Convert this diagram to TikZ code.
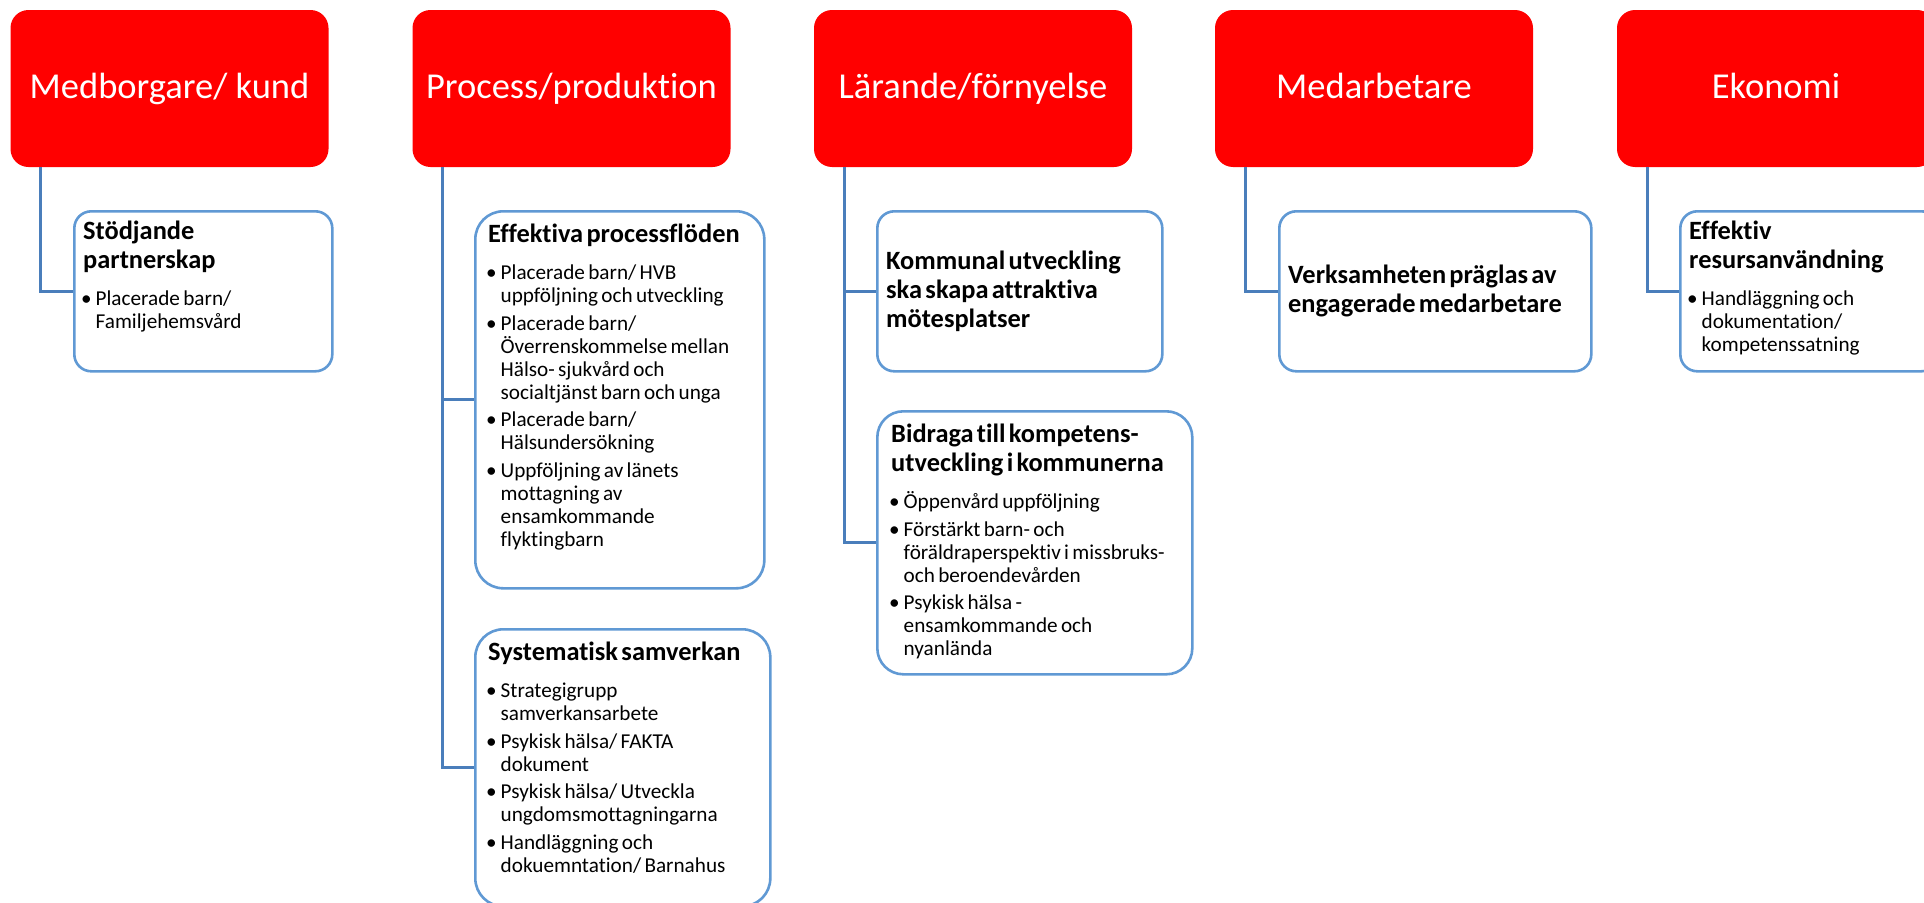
\documentclass[tikz,border=0pt]{standalone}
\usepackage{fontspec}
\setmainfont{Carlito}[Ligatures={NoCommon}]

\definecolor{rouge}{RGB}{255,0,0}
\definecolor{bleucadre}{RGB}{96,153,212}
\definecolor{bleulien}{RGB}{74,126,187}

\newcommand\entete[1]{{\bfseries\fontsize{26.4pt}{29pt}\selectfont #1\par}\vspace{14.5pt}}
\newcommand\puce[1]{{\fontsize{21.2pt}{23pt}\selectfont\hangindent=12.5pt\hangafter=1\noindent\makebox[12.5pt][l]{\hspace{-2pt}\textbullet}#1\par}\vspace{4.5pt}}

\begin{document}
\begin{tikzpicture}  % ------ Perspectives et objectifs -------
      [x=1pt,y=-1pt,
       cat/.style={fill=rouge, text=white, rounded corners=18pt, minimum width=318pt,
         minimum height=157pt, inner sep=0pt, text height=27pt, text depth=7pt,
         font=\fontsize{36.5pt}{40pt}\selectfont},
       boite/.style={draw=bleucadre, line width=2.6pt, fill=white, anchor=north west, inner sep=0pt},
       lien/.style={draw=bleulien, line width=2.8pt},
       texte/.style={inner sep=0pt, align=left, text width=330pt, anchor=base west}]

    \useasboundingbox (0,0) rectangle (1924,902);
    \clip (0,0) rectangle (1924,902);

    \node[cat] (kund) at (169.5,88.5) {Medborgare/ kund};
    \node[cat] (process) at (571.5,88.5) {Process/produktion};
    \node[cat] (larande) at (973,88.5) {Lärande/förnyelse};
    \node[cat] (medarb) at (1374,88.5) {Medarbetare};
    \node[cat] (ekonomi) at (1776,88.5) {Ekonomi};

    \node[boite, minimum width=258pt, minimum height=160pt, rounded corners=17pt] (partner) at (73,210) {};
    \node[boite, minimum width=289pt, minimum height=377pt, rounded corners=28pt] (flode) at (474,210) {};
    \node[boite, minimum width=295pt, minimum height=277pt, rounded corners=28pt] (samverkan) at (474,628) {};
    \node[boite, minimum width=285pt, minimum height=160pt, rounded corners=17pt] (motes) at (876,210) {};
    \node[boite, minimum width=315pt, minimum height=263pt, rounded corners=26pt] (kompetens) at (876,410) {};
    \node[boite, minimum width=312pt, minimum height=160pt, rounded corners=17pt] (engage) at (1278,210) {};
    \node[boite, minimum width=258pt, minimum height=160pt, rounded corners=17pt] (resurs) at (1679,210) {};

    \draw[lien] ([xshift=30.5pt]kund.south west) |- (partner.west);
    \draw[lien] ([xshift=30.5pt]process.south west) |- (flode.west);
    \draw[lien] ([xshift=30.5pt]process.south west) |- (samverkan.west);
    \draw[lien] ([xshift=30.5pt]larande.south west) |- (motes.west);
    \draw[lien] ([xshift=30.5pt]larande.south west) |- (kompetens.west);
    \draw[lien] ([xshift=30.5pt]medarb.south west) |- (engage.west);
    \draw[lien] ([xshift=30.5pt]ekonomi.south west) |- (resurs.west);

    \node[texte] (tpartner) at ([shift={(10,29)}]partner.north west)
      {\entete{Stödjande\newline partnerskap}%
       \puce{Placerade barn/\newline Familjehemsvård}};
    \node[texte] (tflode) at ([shift={(14,32)}]flode.north west)
      {\entete{Effektiva processflöden}%
       \puce{Placerade barn/ HVB\newline uppföljning och utveckling}%
       \puce{Placerade barn/\newline Överrenskommelse mellan\newline Hälso- sjukvård och\newline socialtjänst barn och unga}%
       \puce{Placerade barn/\newline Hälsundersökning}%
       \puce{Uppföljning av länets\newline mottagning av\newline ensamkommande\newline flyktingbarn}};
    \node[texte] (tsamverkan) at ([shift={(14,32)}]samverkan.north west)
      {\entete{Systematisk samverkan}%
       \puce{Strategigrupp\newline samverkansarbete}%
       \puce{Psykisk hälsa/ FAKTA\newline dokument}%
       \puce{Psykisk hälsa/ Utveckla\newline ungdomsmottagningarna}%
       \puce{Handläggning och\newline dokuemntation/ Barnahus}};
    \node[texte, anchor=west] (tmotes) at ([xshift=10pt]motes.west)
      {\bfseries\fontsize{26.4pt}{29pt}\selectfont Kommunal utveckling\newline ska skapa attraktiva\newline mötesplatser\par};
    \node[texte] (tkompetens) at ([shift={(15,32)}]kompetens.north west)
      {\entete{Bidraga till kompetens-\newline utveckling i kommunerna}%
       \puce{Öppenvård uppföljning}%
       \puce{Förstärkt barn- och\newline föräldraperspektiv i missbruks-\newline och beroendevården}%
       \puce{Psykisk hälsa -\newline ensamkommande och\newline nyanlända}};
    \node[texte, anchor=west] (tengage) at ([xshift=10pt]engage.west)
      {\bfseries\fontsize{26.4pt}{29pt}\selectfont Verksamheten präglas av\newline engagerade medarbetare\par};
    \node[texte] (tresurs) at ([shift={(10,29)}]resurs.north west)
      {\entete{Effektiv\newline resursanvändning}%
       \puce{Handläggning och\newline dokumentation/\newline kompetenssatning}};
\end{tikzpicture}
\end{document}
